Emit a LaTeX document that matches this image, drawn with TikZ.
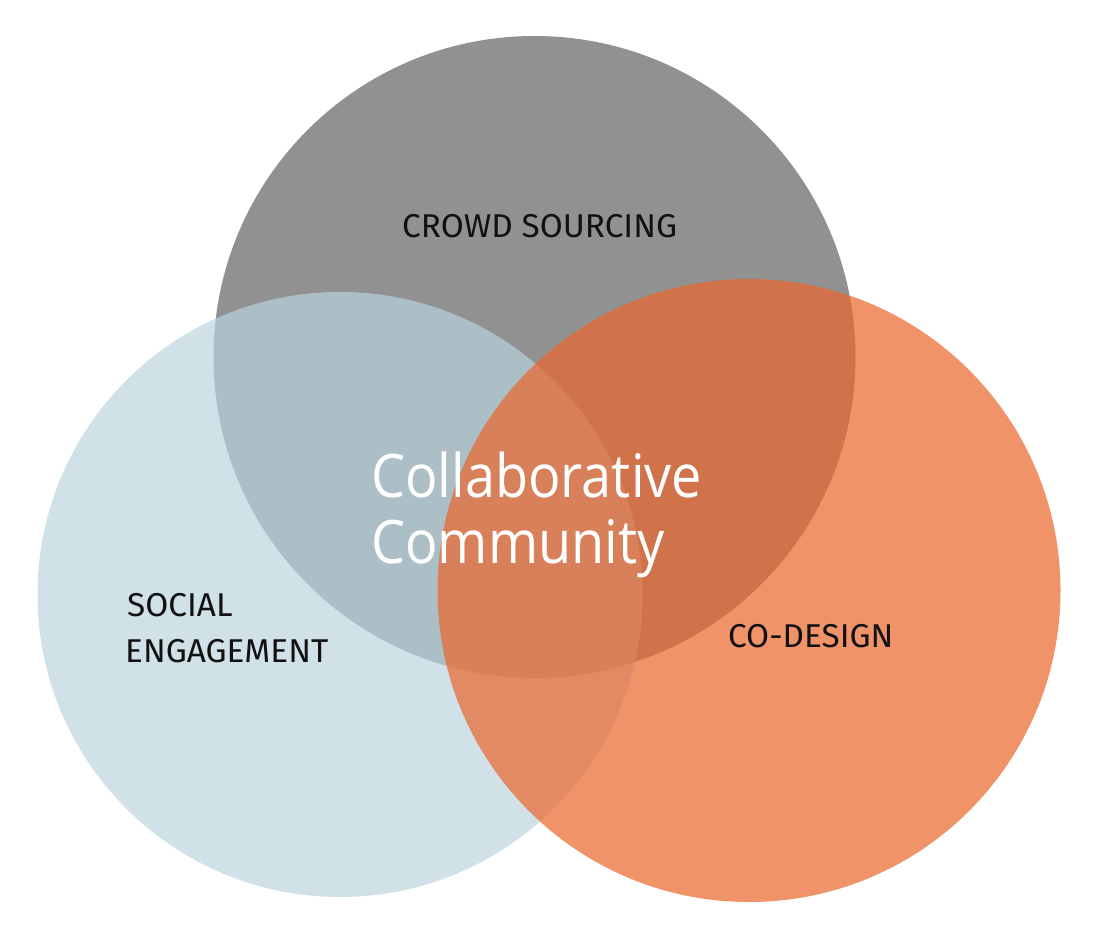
\documentclass[tikz,border=0pt]{standalone}
\usepackage{fontspec}
\newfontfamily\labelfont[FakeStretch=1.01]{Fira Sans}
\newfontfamily\titlefont[FakeStretch=0.9]{Open Sans}
\definecolor{graycirc}{HTML}{919191}
\definecolor{bluecirc}{RGB}{187,213,222}
\definecolor{orangecirc}{RGB}{234,103,45}
\definecolor{labeltext}{HTML}{111111}
\begin{document}
\begin{tikzpicture}[x=1pt,y=-1pt,
  lbl/.style={anchor=base west,inner sep=0pt,text=labeltext,font=\labelfont\fontsize{33}{33}\selectfont},
  ttl/.style={anchor=base west,inner sep=0pt,text=white,font=\titlefont\fontsize{60}{60}\selectfont}]
\useasboundingbox (0,0) rectangle (1095,942);
\fill[white] (0,0) rectangle (1095,942);
\fill[graycirc] (534.5,357) circle[radius=321];
\fill[bluecirc,fill opacity=0.69] (340,594.5) circle[radius=302.5];
\fill[orangecirc,fill opacity=0.71] (749,590.5) circle[radius=311.5];
\node[lbl] (crowd) at (402,237) {CROWD SOURCING};
\node[lbl] (social) at (127,616) {SOCIAL};
\node[lbl] (engage) at (125,662) {ENGAGEMENT};
\node[lbl] (codesign) at (728,647) {CO-DESIGN};
\node[ttl] (collab) at (371,497) {Collaborative};
\node[ttl] (commun) at (371,563) {Community};
\end{tikzpicture}
\end{document}
